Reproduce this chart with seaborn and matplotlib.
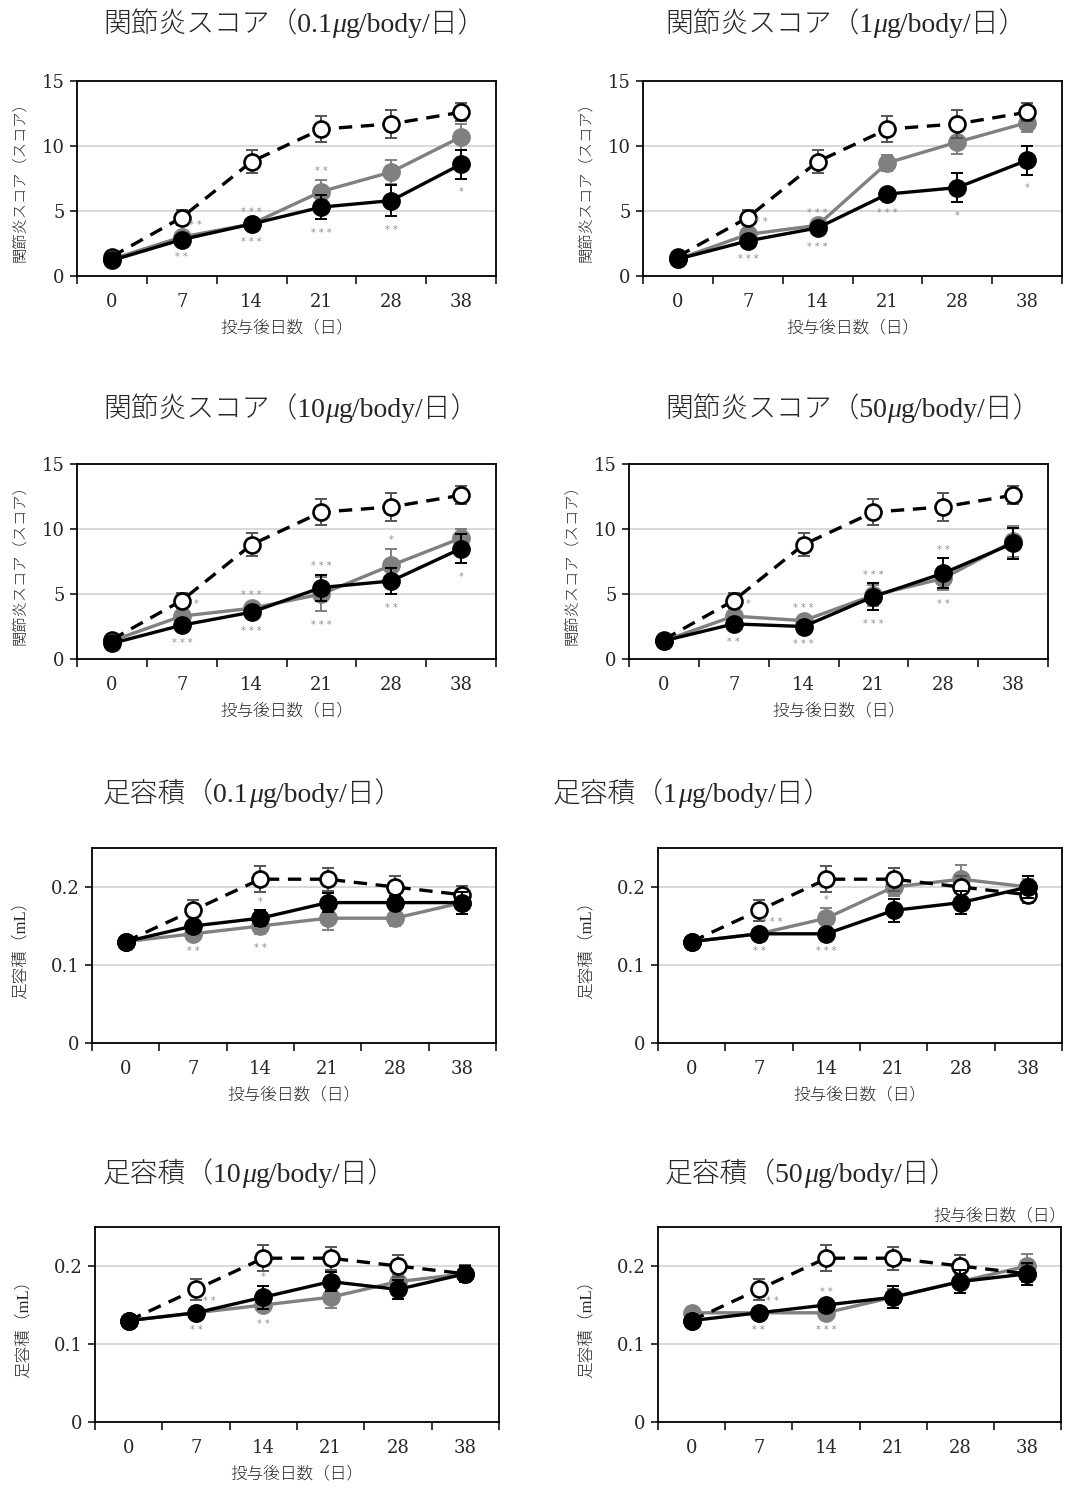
import numpy as np
import matplotlib
matplotlib.use("Agg")
import matplotlib.pyplot as plt
from matplotlib.transforms import IdentityTransform
import seaborn as sns

# DATA

days = ["0", "7", "14", "21", "28", "38"]

# 関節炎スコア - control (open circles, dashed)
ctrl_score = [1.5, 4.5, 8.8, 11.3, 11.7, 12.6]
ctrl_score_err = [0.1, 0.6, 0.9, 1.0, 1.05, 0.7]

# 0.1 ug
score_gray_01 = [1.3, 3.0, 4.0, 6.5, 8.0, 10.7]
score_gray_01_err = [0.1, 0.3, 0.3, 0.9, 0.95, 1.0]
score_black_01 = [1.2, 2.8, 4.0, 5.3, 5.8, 8.6]
score_black_01_err = [0.1, 0.3, 0.3, 0.9, 1.2, 1.1]
score_sig_01 = [(1, "hi", "**"), (2, "hi", "***"), (3, "hi", "**"),
                (1, "lo", "**"), (2, "lo", "***"), (3, "lo", "***"),
                (4, "lo", "**"), (5, "lo", "*")]

# 1 ug
score_gray_1 = [1.3, 3.2, 3.9, 8.7, 10.3, 11.8]
score_gray_1_err = [0.1, 0.3, 0.3, 0.6, 0.9, 0.7]
score_black_1 = [1.3, 2.7, 3.7, 6.3, 6.8, 8.9]
score_black_1_err = [0.1, 0.3, 0.4, 0.4, 1.1, 1.1]
score_sig_1 = [(1, "hi", "**"), (2, "hi", "***"),
               (1, "lo", "***"), (2, "lo", "***"), (3, "lo", "***"),
               (4, "lo", "*"), (5, "lo", "*")]

# 10 ug
score_gray_10 = [1.4, 3.3, 3.9, 5.0, 7.2, 9.3]
score_gray_10_err = [0.1, 0.3, 0.4, 1.3, 1.3, 0.7]
score_black_10 = [1.2, 2.6, 3.6, 5.5, 6.0, 8.5]
score_black_10_err = [0.1, 0.3, 0.4, 1.0, 1.0, 1.1]
score_sig_10 = [(1, "hi", "*"), (2, "hi", "***"), (3, "hi", "***"), (4, "hi", "*"),
                (1, "lo", "***"), (2, "lo", "***"), (3, "lo", "***"),
                (4, "lo", "**"), (5, "lo", "*")]

# 50 ug
score_gray_50 = [1.4, 3.3, 2.95, 4.9, 6.2, 9.05]
score_gray_50_err = [0.1, 0.3, 0.3, 0.8, 0.9, 1.2]
score_black_50 = [1.4, 2.7, 2.5, 4.8, 6.6, 8.9]
score_black_50_err = [0.1, 0.3, 0.3, 1.05, 1.15, 1.2]
score_sig_50 = [(1, "hi", "*"), (2, "hi", "***"), (3, "hi", "***"), (4, "hi", "**"),
                (1, "lo", "**"), (2, "lo", "***"), (3, "lo", "***"), (4, "lo", "**")]

# 足容積 - control
ctrl_vol = [0.13, 0.17, 0.21, 0.21, 0.20, 0.19]
ctrl_vol_err = [0.003, 0.013, 0.017, 0.015, 0.014, 0.011]

vol_gray_01 = [0.13, 0.14, 0.15, 0.16, 0.16, 0.18]
vol_gray_01_err = [0.003, 0.004, 0.01, 0.015, 0.01, 0.006]
vol_black_01 = [0.13, 0.15, 0.16, 0.18, 0.18, 0.18]
vol_black_01_err = [0.003, 0.004, 0.01, 0.012, 0.008, 0.014]
vol_sig_01 = [(2, "hi", "*"), (1, "lo", "**"), (2, "lo", "**")]

vol_gray_1 = [0.13, 0.14, 0.16, 0.20, 0.21, 0.20]
vol_gray_1_err = [0.003, 0.004, 0.013, 0.012, 0.018, 0.01]
vol_black_1 = [0.13, 0.14, 0.14, 0.17, 0.18, 0.20]
vol_black_1_err = [0.003, 0.004, 0.004, 0.015, 0.015, 0.014]
vol_sig_1 = [(1, "hi", "***"), (2, "hi", "*"), (1, "lo", "**"), (2, "lo", "***")]

vol_gray_10 = [0.13, 0.14, 0.15, 0.16, 0.18, 0.19]
vol_gray_10_err = [0.003, 0.004, 0.006, 0.014, 0.008, 0.01]
vol_black_10 = [0.13, 0.14, 0.16, 0.18, 0.17, 0.19]
vol_black_10_err = [0.003, 0.004, 0.015, 0.012, 0.012, 0.01]
vol_sig_10 = [(1, "hi", "**"), (2, "hi", "*"), (1, "lo", "**"), (2, "lo", "**")]

vol_gray_50 = [0.14, 0.14, 0.14, 0.16, 0.18, 0.20]
vol_gray_50_err = [0.003, 0.004, 0.004, 0.01, 0.01, 0.016]
vol_black_50 = [0.13, 0.14, 0.15, 0.16, 0.18, 0.19]
vol_black_50_err = [0.003, 0.004, 0.006, 0.014, 0.015, 0.014]
vol_sig_50 = [(1, "hi", "**"), (2, "hi", "**"), (1, "lo", "**"), (2, "lo", "***")]


# STYLE

sns.set_style("white")
plt.rcParams["font.family"] = ["DejaVu Serif", "Noto Sans CJK JP"]

W, H = 1068, 1488
fig = plt.figure(figsize=(W / 100, H / 100), dpi=100)

GRAY = "#808080"
JP_SERIF = ["Liberation Serif", "Noto Sans CJK JP"]


def rect(l, t, r, b):
    return [l / W, 1 - b / H, (r - l) / W, (b - t) / H]


def draw_panel(ax, ctrl, ctrl_err, gray, gray_err, black, black_err, sig,
               kind, show_xlabel=True):
    x = np.arange(len(days))

    # gray group
    ax.errorbar(x, gray, yerr=gray_err, fmt="none", ecolor=GRAY,
                elinewidth=1.4, capsize=4.5, capthick=1.4, zorder=2)
    sns.lineplot(x=x, y=gray, ax=ax, color=GRAY, linewidth=2.4,
                 marker="o", markersize=12.5, markeredgecolor=GRAY,
                 markeredgewidth=1, zorder=2.5)

    # control
    ax.errorbar(x, ctrl, yerr=ctrl_err, fmt="none", ecolor="#555555",
                elinewidth=1.4, capsize=4.5, capthick=1.4, zorder=3)
    sns.lineplot(x=x, y=ctrl, ax=ax, color="black", linewidth=2.4,
                 linestyle=(0, (4, 2.6)), marker="o", markersize=11.5,
                 markerfacecolor="white", markeredgecolor="black",
                 markeredgewidth=1.9, zorder=3.5)

    # black group
    ax.errorbar(x, black, yerr=black_err, fmt="none", ecolor="black",
                elinewidth=1.4, capsize=4.5, capthick=1.4, zorder=4)
    sns.lineplot(x=x, y=black, ax=ax, color="black", linewidth=2.4,
                 marker="o", markersize=12.5, markeredgecolor="black",
                 markeredgewidth=1, zorder=4.5)

    # significance marks
    for idx, side, txt in sig:
        dx = 0.2 if (idx == 1 and side == "hi") else 0.0
        if side == "hi":
            y0 = max(gray[idx] + gray_err[idx], black[idx] + black_err[idx])
            off = 6
        else:
            y0 = min(gray[idx] - gray_err[idx], black[idx] - black_err[idx])
            off = -10
        ax.annotate(" ".join(txt), xy=(idx + dx, y0), xytext=(0, off),
                    textcoords="offset points", ha="center", va="center",
                    fontsize=7, color="#8c8c8c", family="DejaVu Sans",
                    zorder=6)

    ax.set_xlim(-0.5, 5.5)
    ax.set_xticks(x)
    ax.set_xticklabels(days)
    ax.set_xticks(np.arange(-0.5, 6, 1), minor=True)
    ax.tick_params(axis="x", which="major", length=0, pad=12, labelsize=13)
    ax.tick_params(axis="x", which="minor", length=6, width=1.3,
                   direction="out", bottom=True)

    if kind == "score":
        ax.set_ylim(0, 15)
        ax.set_yticks([0, 5, 10, 15])
        ax.set_yticklabels(["0", "5", "10", "15"])
        ax.set_ylabel("関節炎スコア（スコア）", fontsize=11, family=JP_SERIF,
                      fontweight="light")
    else:
        ax.set_ylim(0, 0.25)
        ax.set_yticks([0, 0.1, 0.2])
        ax.set_yticklabels(["0", "0.1", "0.2"])
        ax.set_ylabel("足容積（mL）", fontsize=12, family=JP_SERIF,
                      fontweight="light")
    ax.tick_params(axis="y", length=5, width=1.3, direction="out",
                   left=True, pad=4, labelsize=13)

    ax.grid(axis="y", color="#d9d9d9", linewidth=1.4)
    ax.grid(axis="x", visible=False)
    ax.set_axisbelow(True)
    for sp in ax.spines.values():
        sp.set_visible(True)
        sp.set_color("black")
        sp.set_linewidth(1.3)

    bbox = ax.get_position()
    w_px = bbox.width * W
    h_px = bbox.height * H
    lab_off = 50 if kind == "score" else 63
    ax.yaxis.set_label_coords(-lab_off / w_px, 0.5)
    if show_xlabel:
        ax.set_xlabel("投与後日数（日）", fontsize=12, family=JP_SERIF,
                      fontweight="light")
        ax.xaxis.set_label_coords(0.5, -44 / h_px)
    else:
        ax.set_xlabel("")


def title(x_px, base_px, head, dose):
    renderer = fig.canvas.get_renderer()
    parts = [(head + "（" + dose, "normal"), ("μ", "italic"), ("g/body/日）", "normal")]
    x = x_px
    for s, st in parts:
        t = fig.text(x, H - base_px, s, fontsize=20, fontstyle=st,
                     fontweight="light", family=JP_SERIF, va="baseline",
                     ha="left", transform=IdentityTransform())
        x += t.get_window_extent(renderer).width


panels = [
    (rect(77, 81, 496, 276), ctrl_score, ctrl_score_err, score_gray_01, score_gray_01_err,
     score_black_01, score_black_01_err, score_sig_01, "score"),
    (rect(643, 81, 1062, 276), ctrl_score, ctrl_score_err, score_gray_1, score_gray_1_err,
     score_black_1, score_black_1_err, score_sig_1, "score"),
    (rect(77, 464, 496, 659), ctrl_score, ctrl_score_err, score_gray_10, score_gray_10_err,
     score_black_10, score_black_10_err, score_sig_10, "score"),
    (rect(629, 464, 1048, 659), ctrl_score, ctrl_score_err, score_gray_50, score_gray_50_err,
     score_black_50, score_black_50_err, score_sig_50, "score"),
    (rect(92, 848, 496, 1043), ctrl_vol, ctrl_vol_err, vol_gray_01, vol_gray_01_err,
     vol_black_01, vol_black_01_err, vol_sig_01, "vol"),
    (rect(658, 848, 1062, 1043), ctrl_vol, ctrl_vol_err, vol_gray_1, vol_gray_1_err,
     vol_black_1, vol_black_1_err, vol_sig_1, "vol"),
    (rect(95, 1227, 499, 1422), ctrl_vol, ctrl_vol_err, vol_gray_10, vol_gray_10_err,
     vol_black_10, vol_black_10_err, vol_sig_10, "vol"),
    (rect(658, 1227, 1061, 1422), ctrl_vol, ctrl_vol_err, vol_gray_50, vol_gray_50_err,
     vol_black_50, vol_black_50_err, vol_sig_50, "vol"),
]

for i, p in enumerate(panels):
    ax = fig.add_axes(p[0])
    draw_panel(ax, *p[1:], show_xlabel=(i != 7))

# TITLES
title(103, 32, "関節炎スコア", "0.1")
title(665, 32, "関節炎スコア", "1")
title(103, 417, "関節炎スコア", "10")
title(665, 417, "関節炎スコア", "50")
title(103, 802, "足容積", "0.1")
title(553, 802, "足容積", "1")
title(103, 1182, "足容積", "10")
title(665, 1182, "足容積", "50")

# stray axis label above the last panel
fig.text(1066 / W, 1 - 1216 / H, "投与後日数（日）", fontsize=12,
         fontweight="light", family=JP_SERIF, ha="right", va="center")

fig.savefig("out.png", dpi=100)
